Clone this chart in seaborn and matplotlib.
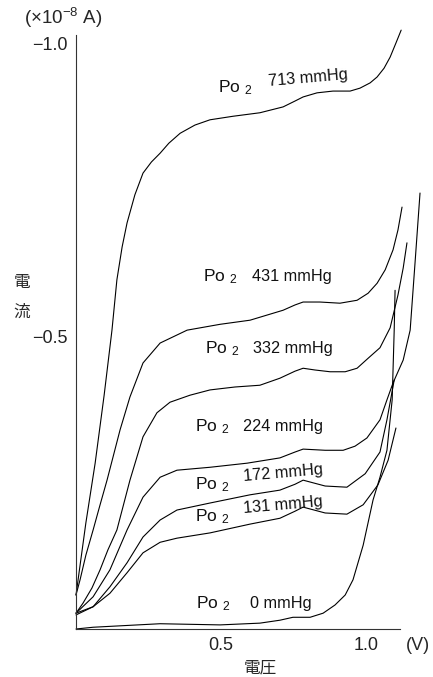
import matplotlib
matplotlib.use("Agg")
import matplotlib.pyplot as plt
import pandas as pd
import seaborn as sns

# Polarographic current-voltage curves for several oxygen partial pressures
po2_levels = ["713", "431", "332", "224", "172", "131", "0"]

v_713 = [0.000, 0.034, 0.066, 0.097, 0.124, 0.141, 0.159, 0.176, 0.203, 0.231, 0.260, 0.290, 0.320, 0.359,
         0.410, 0.462, 0.541, 0.634, 0.714, 0.755, 0.783, 0.831, 0.886, 0.945, 0.979, 1.014, 1.038,
         1.062, 1.083, 1.103, 1.121]
i_713 = [-0.058, -0.181, -0.283, -0.399, -0.510, -0.596, -0.652, -0.693, -0.741, -0.778, -0.797, -0.812, -0.829, -0.846,
         -0.860, -0.869, -0.875, -0.881, -0.891, -0.901, -0.908, -0.915, -0.918, -0.918, -0.923, -0.932, -0.942,
         -0.957, -0.976, -1.000, -1.022]

v_431 = [0.000, 0.014, 0.034, 0.059, 0.083, 0.107, 0.152, 0.186, 0.231, 0.290, 0.383, 0.497,
         0.600, 0.714, 0.755, 0.783, 0.841, 0.910, 0.969, 1.007, 1.038, 1.066, 1.093, 1.110, 1.124]
i_431 = [-0.058, -0.084, -0.126, -0.169, -0.212, -0.254, -0.340, -0.396, -0.454, -0.488, -0.510, -0.520,
         -0.527, -0.544, -0.553, -0.558, -0.558, -0.556, -0.561, -0.573, -0.590, -0.613, -0.647, -0.681, -0.720]

v_332 = [0.000, 0.024, 0.055, 0.083, 0.110, 0.141, 0.186, 0.231, 0.279, 0.324, 0.393, 0.462,
         0.548, 0.634, 0.703, 0.755, 0.783, 0.824, 0.876, 0.928, 0.969, 1.007, 1.048, 1.083,
         1.110, 1.128, 1.141]
i_332 = [-0.027, -0.044, -0.070, -0.101, -0.135, -0.169, -0.254, -0.328, -0.369, -0.387, -0.399, -0.408,
         -0.413, -0.416, -0.428, -0.440, -0.445, -0.442, -0.439, -0.439, -0.445, -0.462, -0.480, -0.514,
         -0.570, -0.616, -0.659]

v_224 = [0.000, 0.059, 0.117, 0.176, 0.231, 0.290, 0.348, 0.462, 0.590, 0.703, 0.755, 0.783,
         0.859, 0.921, 0.962, 1.003, 1.048, 1.072, 1.093, 1.128, 1.152, 1.169, 1.186]
i_224 = [-0.027, -0.055, -0.101, -0.169, -0.225, -0.259, -0.271, -0.276, -0.283, -0.292, -0.302, -0.307,
         -0.305, -0.305, -0.312, -0.326, -0.357, -0.391, -0.420, -0.459, -0.510, -0.626, -0.744]

v_172 = [0.000, 0.059, 0.117, 0.176, 0.231, 0.290, 0.348, 0.462, 0.600, 0.703, 0.755, 0.783,
         0.859, 0.934, 0.997, 1.048, 1.072, 1.097]
i_172 = [-0.027, -0.038, -0.072, -0.113, -0.157, -0.186, -0.203, -0.215, -0.229, -0.237, -0.247, -0.254,
         -0.244, -0.242, -0.265, -0.302, -0.357, -0.425]

v_131 = [0.000, 0.059, 0.117, 0.176, 0.231, 0.290, 0.348, 0.462, 0.600, 0.703, 0.755, 0.783,
         0.859, 0.934, 0.990, 1.041, 1.076, 1.103]
i_131 = [-0.024, -0.038, -0.061, -0.096, -0.130, -0.148, -0.155, -0.164, -0.179, -0.189, -0.201, -0.208,
         -0.198, -0.196, -0.212, -0.246, -0.288, -0.343]

v_0 = [0.000, 0.059, 0.290, 0.497, 0.634, 0.703, 0.748, 0.807, 0.852, 0.893, 0.928, 0.955,
       0.990, 1.024, 1.048, 1.072, 1.090, 1.097, 1.100]
i_0 = [0.000, -0.003, -0.009, -0.007, -0.010, -0.015, -0.020, -0.020, -0.027, -0.041, -0.058, -0.084,
       -0.143, -0.220, -0.259, -0.305, -0.391, -0.510, -0.578]

voltages = [v_713, v_431, v_332, v_224, v_172, v_131, v_0]
currents = [i_713, i_431, i_332, i_224, i_172, i_131, i_0]

x_ticks = [0.5, 1.0]
x_tick_labels = ["0.5", "1.0"]
y_ticks = [-1.0, -0.5]
y_tick_labels = ["\u22121.0", "\u22120.5"]

df = pd.concat(
    [pd.DataFrame({"voltage": v, "current": c, "po2": lvl})
     for lvl, v, c in zip(po2_levels, voltages, currents)],
    ignore_index=True,
)

sns.set_style("white")
plt.rcParams["font.family"] = ["Liberation Sans", "Noto Sans CJK JP", "DejaVu Sans"]
plt.rcParams["mathtext.fontset"] = "custom"
plt.rcParams["mathtext.rm"] = "Liberation Sans"
plt.rcParams["mathtext.it"] = "Liberation Sans"

W, H = 433, 677
fig = plt.figure(figsize=(W / 100, H / 100), dpi=100)
ax = fig.add_axes([76 / W, 48 / H, 324 / W, 594 / H])

sns.lineplot(data=df, x="voltage", y="current", units="po2", estimator=None,
             sort=False, color="black", linewidth=0.8, ax=ax)
for ln in ax.lines:
    ln.set_clip_on(False)
    ln.set_solid_joinstyle("round")

ax.set_xlim(0, 1.117)
ax.set_ylim(0, -1.0137)
sns.despine(ax=ax)
for side in ("left", "bottom"):
    ax.spines[side].set_linewidth(0.8)
    ax.spines[side].set_color("#333333")

ax.set_xticks(x_ticks)
ax.set_xticklabels(x_tick_labels)
ax.set_yticks(y_ticks)
ax.set_yticklabels(y_tick_labels)
ax.tick_params(direction="in", length=4, width=0.8, labelsize=13, pad=6, colors="#222222")
ax.set_xlabel("")
ax.set_ylabel("")

# curve labels: (Po2 x, y), (value x, y, rotation)
label_specs = [
    ("713", 0.490, -0.923, 0.662, -0.934, 5),
    ("431", 0.438, -0.601, 0.607, -0.601, 0),
    ("332", 0.445, -0.478, 0.610, -0.478, 0),
    ("224", 0.410, -0.345, 0.576, -0.345, 0),
    ("172", 0.410, -0.247, 0.576, -0.261, 5),
    ("131", 0.410, -0.191, 0.576, -0.206, 5),
    ("0", 0.414, -0.043, 0.600, -0.044, 0),
]
for val, px, py, nx, ny, rot in label_specs:
    ax.text(px, py, "Po $_2$", fontsize=12.5, ha="left", va="center", color="#111111")
    ax.text(nx, ny, f"{val} mmHg", fontsize=11.7, ha="left", va="center",
            rotation=rot, rotation_mode="anchor", color="#111111")

fig.text(24 / W, 1 - 18 / H, "(\u00d710$^{-8}$ A)", fontsize=13.5, ha="left", va="center")
fig.text(406 / W, 1 - 646 / H, "(V)", fontsize=13, ha="left", va="center")
cjk = ["Noto Sans CJK JP", "DejaVu Sans"]
fig.text(22 / W, 1 - 282 / H, "電", family=cjk, fontsize=12, ha="center", va="center")
fig.text(22 / W, 1 - 312 / H, "流", family=cjk, fontsize=12, ha="center", va="center")
fig.text(260 / W, 1 - 668 / H, "電圧", family=cjk, fontsize=12, ha="center", va="center")

fig.savefig("out.png", dpi=100, facecolor="white")
